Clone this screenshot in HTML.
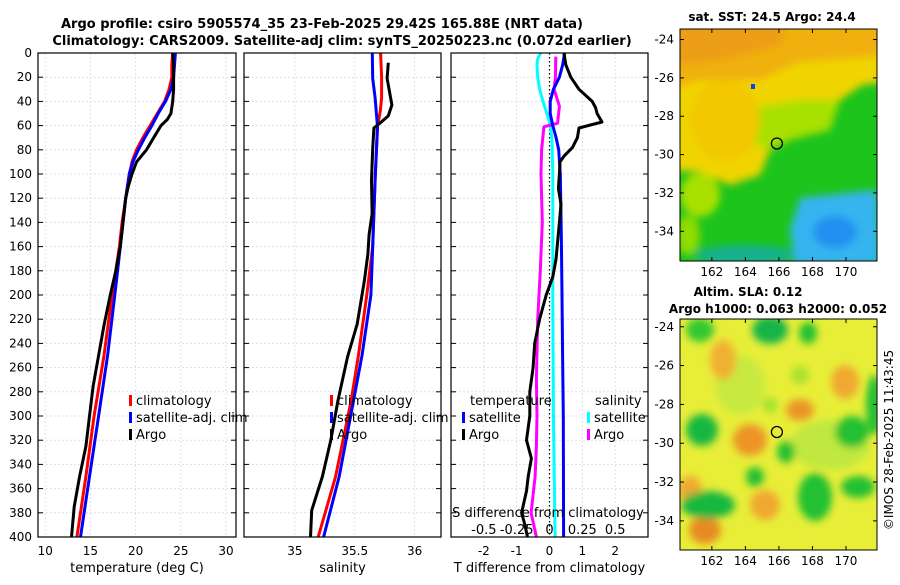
<!DOCTYPE html>
<html><head><meta charset="utf-8"><style>
html,body{margin:0;padding:0;background:#fff;}
svg text{font-family:"DejaVu Sans","Liberation Sans",sans-serif;}
</style></head><body>
<svg id="fig" width="900" height="580" viewBox="0 0 900 580" xmlns="http://www.w3.org/2000/svg">
<defs>
<filter id="blr1" x="-20%" y="-20%" width="140%" height="140%"><feGaussianBlur stdDeviation="4"/></filter>
<filter id="blr2" x="-20%" y="-20%" width="140%" height="140%"><feGaussianBlur stdDeviation="4"/></filter>
<clipPath id="c1"><rect x="680" y="29" width="197" height="232"/></clipPath>
<clipPath id="c2"><rect x="680" y="319" width="197" height="231"/></clipPath>
</defs>
<text x="322" y="28" text-anchor="middle" font-size="13" font-weight="bold">Argo profile: csiro 5905574_35 23-Feb-2025 29.42S 165.88E (NRT data)</text>
<text x="342" y="45" text-anchor="middle" font-size="13" font-weight="bold">Climatology: CARS2009. Satellite-adj clim: synTS_20250223.nc (0.072d earlier)</text>

<!-- SST map -->
<g clip-path="url(#c1)">
<rect x="680" y="29" width="197" height="232" fill="#1cc41c"/>
<g filter="url(#blr1)">
<polygon points="660,10 900,10 900,80 862,85 840,100 800,105 790,140 770,150 760,175 730,185 700,172 670,170" fill="#f0d400"/>
<polygon points="740,110 800,100 840,100 830,130 790,140 770,150 745,140" fill="#a8e000"/>
<polygon points="660,10 900,10 900,55 800,62 760,80 700,80 670,90" fill="#f0b010"/>
<polygon points="660,10 790,10 780,45 720,60 670,65" fill="#ec9e18"/>
<ellipse cx="725" cy="120" rx="35" ry="40" fill="#f2c800"/>
<ellipse cx="700" cy="195" rx="20" ry="22" fill="#a8e000"/>
<ellipse cx="688" cy="235" rx="12" ry="20" fill="#90dc00"/>
<ellipse cx="745" cy="255" rx="50" ry="10" fill="#12b090"/>
<polygon points="800,198 877,190 880,265 795,265 790,230" fill="#34b4f0"/>
<ellipse cx="835" cy="232" rx="22" ry="16" fill="#2090f0"/>
</g>
</g>
<rect x="680" y="29" width="197" height="232" fill="none" stroke="#000" stroke-width="1"/>
<rect x="751" y="84" width="4" height="5" fill="#1040f0"/>
<!-- SLA map -->
<g clip-path="url(#c2)">
<rect x="680" y="319" width="197" height="231" fill="#e8ee38"/>
<g filter="url(#blr2)">
<ellipse cx="740" cy="385" rx="25" ry="30" fill="#c8ea40"/>
<ellipse cx="830" cy="445" rx="40" ry="25" fill="#c0e840"/>
<ellipse cx="723" cy="360" rx="13" ry="20" fill="#f0b030"/>
<ellipse cx="845" cy="382" rx="14" ry="17" fill="#f0a830"/>
<ellipse cx="750" cy="440" rx="17" ry="16" fill="#ec9428"/>
<ellipse cx="800" cy="410" rx="14" ry="11" fill="#ec9428"/>
<ellipse cx="765" cy="505" rx="15" ry="15" fill="#f0a830"/>
<ellipse cx="690" cy="490" rx="12" ry="14" fill="#f0a830"/>
<ellipse cx="705" cy="530" rx="16" ry="14" fill="#e88a20"/>
<ellipse cx="770" cy="330" rx="18" ry="14" fill="#18b448"/>
<ellipse cx="808" cy="333" rx="9" ry="11" fill="#20c030"/>
<ellipse cx="700" cy="330" rx="14" ry="12" fill="#30c830"/>
<ellipse cx="702" cy="430" rx="16" ry="16" fill="#18b840"/>
<ellipse cx="852" cy="432" rx="17" ry="16" fill="#20c030"/>
<ellipse cx="874" cy="405" rx="8" ry="30" fill="#20c030"/>
<ellipse cx="786" cy="452" rx="9" ry="11" fill="#20c030"/>
<ellipse cx="755" cy="477" rx="9" ry="10" fill="#20c030"/>
<ellipse cx="815" cy="497" rx="17" ry="24" fill="#20c030"/>
<ellipse cx="858" cy="487" rx="17" ry="11" fill="#20c030"/>
<ellipse cx="708" cy="505" rx="27" ry="14" fill="#18b840"/>
<ellipse cx="770" cy="405" rx="7" ry="8" fill="#a0e030"/>
<ellipse cx="800" cy="375" rx="9" ry="9" fill="#a8e030"/>
</g>
</g>
<rect x="680" y="319" width="197" height="231" fill="none" stroke="#000" stroke-width="1"/>
<text transform="translate(893,440) rotate(-90)" text-anchor="middle" font-size="12">©IMOS 28-Feb-2025 11:43:45</text>
<text x="772" y="21" text-anchor="middle" font-size="12" font-weight="bold">sat. SST: 24.5 Argo: 24.4</text>
<text x="748" y="296" text-anchor="middle" font-size="12" font-weight="bold">Altim. SLA: 0.12</text>
<text x="778" y="313" text-anchor="middle" font-size="12" font-weight="bold">Argo h1000: 0.063 h2000: 0.052</text>
<g id="g-plots"></g>
</svg>
<script>
// ---- data (depth in m) ----
const depthTicks = [0,20,40,60,80,100,120,140,160,180,200,220,240,260,280,300,320,340,360,380,400];
const tempTicks = [10,15,20,25,30];
const salTicks = [35,35.5,36];
const tdiffTicks = [-2,-1,0,1,2];
const sdiffTicks = [-0.5,-0.25,0,0.25,0.5];
const sdiffTickLabels = ["-0.5","-0.25","0","0.25","0.5"];

const climTempDepth = [0,10,20,30,40,50,60,70,80,90,100,120,140,160,180,200,250,300,350,400];
const climTemp      = [24.1,24.0,24.0,23.7,23.2,22.4,21.6,20.8,20.1,19.6,19.3,18.9,18.5,18.2,17.8,17.4,16.5,15.4,14.5,13.5];
const satTempDepth  = [0,10,20,30,40,50,60,70,80,90,100,120,140,160,180,200,250,300,350,400];
const satTemp       = [24.4,24.3,24.2,23.9,23.3,22.5,21.8,21.0,20.3,19.7,19.3,18.9,18.6,18.3,18.0,17.7,16.9,15.9,14.9,13.9];
const argoTempDepth = [0,10,20,30,40,50,55,60,65,70,80,90,100,110,120,140,160,180,200,225,250,275,300,325,350,375,400];
const argoTemp      = [24.1,24.2,24.2,24.2,24.1,23.9,23.5,22.8,22.4,22.0,21.2,20.1,19.6,19.2,18.9,18.6,18.3,17.8,17.2,16.5,15.9,15.3,14.9,14.5,13.8,13.2,12.9];

const climSalDepth = [0,20,37,48,61,105,160,200,250,287,350,400];
const climSal      = [35.716,35.724,35.724,35.713,35.69,35.67,35.65,35.60,35.53,35.47,35.34,35.195];
const satSalDepth  = [0,21,37,61,105,160,200,250,287,350,400];
const satSal       = [35.646,35.65,35.67,35.69,35.67,35.65,35.635,35.56,35.49,35.37,35.24];
const argoSalDepth = [8,21,32,43,52,58,62,79,105,133,150,166,188,224,251,287,320,350,378,400];
const argoSal      = [35.78,35.77,35.79,35.81,35.78,35.71,35.66,35.65,35.64,35.645,35.62,35.61,35.58,35.52,35.44,35.36,35.30,35.23,35.14,35.13];

const tdArgoDepth = [0,10,20,30,40,45,50,57,62,70,78,85,90,100,112,125,140,155,170,185,200,220,240,260,280,300,320,335,350,362,380,390,400];
const tdArgo      = [0.44,0.5,0.65,0.9,1.3,1.4,1.45,1.6,0.9,0.85,0.7,0.45,0.32,0.3,0.27,0.35,0.3,0.25,0.2,0.1,-0.1,-0.3,-0.45,-0.5,-0.6,-0.6,-0.7,-0.55,-0.65,-0.7,-0.85,-0.75,-0.67];
const tdSatDepth  = [0,10,20,30,40,50,60,70,80,100,150,200,250,300,400];
const tdSat       = [0.46,0.4,0.3,0.12,0.02,0.02,0.1,0.2,0.28,0.33,0.36,0.38,0.4,0.42,0.43];
const sdSatDepth  = [0,5,10,20,30,40,50,57,70,100,200,300,400];
const sdSat       = [-0.068,-0.09,-0.095,-0.09,-0.075,-0.05,-0.02,0,0.018,0.025,0.025,0.03,0.043];
const sdArgoDepth = [3,20,30,44,58,61,80,100,140,180,220,270,300,325,350,380,400];
const sdArgo      = [0.048,0.045,0.035,0.075,0.062,-0.043,-0.06,-0.065,-0.055,-0.07,-0.09,-0.1,-0.095,-0.1,-0.11,-0.14,-0.1];

const mapLat = [-24,-26,-28,-30,-32,-34];
const mapLon = [162,164,166,168,170];
const argoLon = [165.88];
const argoLat = [-29.42];

// ---- layout ----
const NS = "http://www.w3.org/2000/svg";
const root = document.getElementById('g-plots');
const yTop = 53, yBot = 537;
function yD(d){ return yTop + (yBot-yTop)*d/400; }
const panels = [
  {x0:38, x1:236, vmin:9.2, vmax:31.1},
  {x0:244, x1:441, vmin:34.575, vmax:36.22},
  {x0:451, x1:648, vmin:-3.0, vmax:3.0}
];
function sx(p,v){ return p.x0 + (p.x1-p.x0)*(v-p.vmin)/(p.vmax-p.vmin); }
function mk(tag, attrs, parent){
  const e = document.createElementNS(NS, tag);
  for (const k in attrs) e.setAttribute(k, attrs[k]);
  (parent||root).appendChild(e);
  return e;
}
function txt(x,y,s,size,anchor){
  const t = mk('text',{x:x,y:y,'font-size':size||12,'text-anchor':anchor||'middle'});
  t.textContent = s;
  return t;
}
function line(p, vals, depths, color, name, scale){
  const k = scale||1;
  const pts = vals.map((v,i)=> sx(p,v*k).toFixed(1)+','+yD(depths[i]).toFixed(1)).join(' ');
  const pl = mk('polyline',{points:pts,fill:'none',stroke:color,'stroke-width':3,'stroke-linejoin':'round'});
  
  
}

const xTicksSets = [tempTicks, salTicks, tdiffTicks];
const xLabels = ["temperature (deg C)","salinity","T difference from climatology"];
panels.forEach((p,pi)=>{
  depthTicks.forEach(d=>{
    const g = mk('line',{x1:p.x0,x2:p.x1,y1:yD(d),y2:yD(d),stroke:'#dcdff2','stroke-width':1,'stroke-dasharray':'2,2'});
    
    
    mk('line',{x1:p.x0,x2:p.x0+5,y1:yD(d),y2:yD(d),stroke:'#000'});
    mk('line',{x1:p.x1-5,x2:p.x1,y1:yD(d),y2:yD(d),stroke:'#000'});
  });
  xTicksSets[pi].forEach(v=>{
    const x = sx(p,v);
    const g = mk('line',{x1:x,x2:x,y1:yTop,y2:yBot,stroke:'#dcdff2','stroke-width':1,'stroke-dasharray':'2,2'});
    
    
    const t = txt(x,555,String(v),12);
    
    
  });
  const xl = txt((p.x0+p.x1)/2,572,xLabels[pi],13);
  
  
});
depthTicks.forEach(d=>{
  const t = txt(32,yD(d)+4,String(d),12,'end');
  
  
});

line(panels[0], climTemp, climTempDepth, '#ff0000', 'climatology-temp-line');
line(panels[0], satTemp, satTempDepth, '#0000ff', 'satellite-temp-line');
line(panels[0], argoTemp, argoTempDepth, '#000000', 'argo-temp-line');
line(panels[1], climSal, climSalDepth, '#ff0000', 'climatology-salinity-line');
line(panels[1], satSal, satSalDepth, '#0000ff', 'satellite-salinity-line');
line(panels[1], argoSal, argoSalDepth, '#000000', 'argo-salinity-line');
const z = mk('line',{x1:sx(panels[2],0),x2:sx(panels[2],0),y1:yTop,y2:yBot,stroke:'#000','stroke-width':1.2,'stroke-dasharray':'1.5,2.5'});


line(panels[2], sdSat, sdSatDepth, '#00ffff', 'satellite-s-diff-line', 4);
line(panels[2], sdArgo, sdArgoDepth, '#ff00ff', 'argo-s-diff-line', 4);
line(panels[2], tdSat, tdSatDepth, '#0000ff', 'satellite-t-diff-line');
line(panels[2], tdArgo, tdArgoDepth, '#000000', 'argo-t-diff-line');
sdiffTicks.forEach((v,i)=>{
  const t = txt(sx(panels[2],v*4),534,sdiffTickLabels[i],13);
  
  
});
const sdl = txt(548,517,'S difference from climatology',13);



panels.forEach(p=>{
  const f = mk('rect',{x:p.x0,y:yTop,width:p.x1-p.x0,height:yBot-yTop,fill:'none',stroke:'#000','stroke-width':1.2});
  
  
});

function legEntry(x,y,color,label,name){
  const r = mk('rect',{x:x,y:y-10,width:3,height:11,fill:color});
  
  
  const t = txt(x+7,y,label,13,'start');
  
  
}
legEntry(129,405,'#ff0000','climatology','legend-climatology');
legEntry(129,422,'#0000ff','satellite-adj. clim','legend-satellite-adj');
legEntry(129,439,'#000000','Argo','legend-argo');
legEntry(330,405,'#ff0000','climatology','legend-sal-climatology');
legEntry(330,422,'#0000ff','satellite-adj. clim','legend-sal-satellite-adj');
legEntry(330,439,'#000000','Argo','legend-sal-argo');
const lt = txt(470,405,'temperature',13,'start');


const ls = txt(595,405,'salinity',13,'start');


legEntry(462,422,'#0000ff','satellite','legend-t-satellite');
legEntry(462,439,'#000000','Argo','legend-t-argo');
legEntry(587,422,'#00ffff','satellite','legend-s-satellite');
legEntry(587,439,'#ff00ff','Argo','legend-s-argo');

const maps = [{y0:29,y1:261,latTop:-23.45,latBot:-35.55},{y0:319,y1:550,latTop:-23.6,latBot:-35.5}];
const mx0=680, mx1=877, lonL=160.1, lonR=171.85;
function mX(lon){ return mx0+(mx1-mx0)*(lon-lonL)/(lonR-lonL); }
maps.forEach((m,mi)=>{
  const mY = lat=> m.y0+(m.y1-m.y0)*(lat-m.latTop)/(m.latBot-m.latTop);
  mapLat.forEach(l=>{
    const y = mY(l);
    mk('line',{x1:mx0,x2:mx0+4,y1:y,y2:y,stroke:'#000'});
    mk('line',{x1:mx1-4,x2:mx1,y1:y,y2:y,stroke:'#000'});
    const t = txt(674,y+4,String(l),12,'end');
    
    
  });
  mapLon.forEach(l=>{
    const x = mX(l);
    mk('line',{x1:x,x2:x,y1:m.y1-4,y2:m.y1,stroke:'#000'});
    mk('line',{x1:x,x2:x,y1:m.y0,y2:m.y0+4,stroke:'#000'});
    const t = txt(x,m.y1+15,String(l),12);
    
    
  });
  argoLon.forEach((lo,i)=>{
    const c = mk('circle',{cx:mX(lo),cy:mY(argoLat[i]),r:5.5,fill:'none',stroke:'#000','stroke-width':1.3});
    
    
  });
});
</script>
</body></html>
